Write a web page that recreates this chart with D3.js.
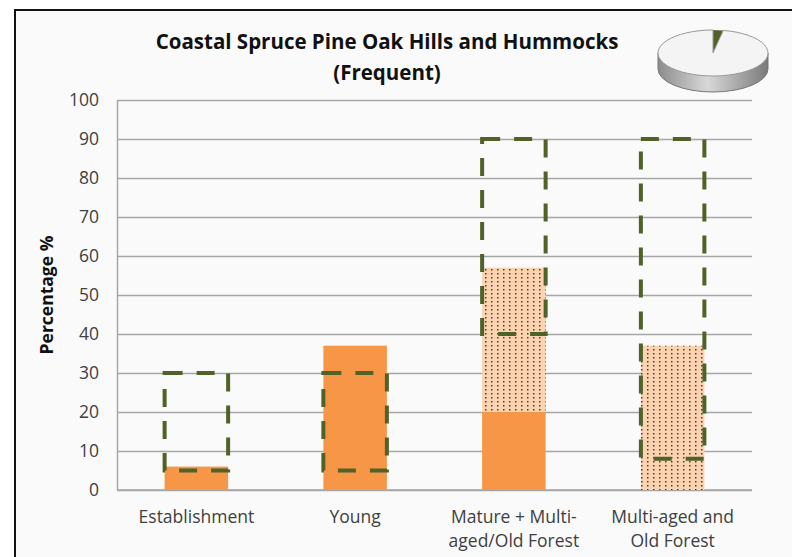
<!DOCTYPE html>
<html>
<head>
<meta charset="utf-8">
<script src="https://cdnjs.cloudflare.com/ajax/libs/d3/7.8.5/d3.min.js"></script>
<style>
  body { margin: 0; background: #fff; }
  text { font-family: "Open Sans", Lato, sans-serif; }
</style>
</head>
<body>
<script>
// chart values
const categories = ["Establishment", "Young", "Mature + Multi-aged/Old Forest", "Multi-aged and Old Forest"];
const labelLines = [["Establishment"], ["Young"], ["Mature + Multi-", "aged/Old Forest"], ["Multi-aged and", "Old Forest"]];
const solidValues = [6, 37, 20, 0];
const dottedValues = [0, 0, 37, 37];
const rangeLow = [5, 5, 40, 8];
const rangeHigh = [30, 30, 90, 90];
const yTicks = [0, 10, 20, 30, 40, 50, 60, 70, 80, 90, 100];
const pieValues = [3, 97];

const W = 792, H = 557;
const margin = {top: 100, right: 40, bottom: 67, left: 117},
    width = 752 - margin.left,
    height = 490 - margin.top;

var svg = d3.select("body").append("svg")
    .attr("width", W)
    .attr("height", H);

var defs = svg.append("defs");

// dotted fill
var pat = defs.append("pattern")
    .attr("id", "dots")
    .attr("patternUnits", "userSpaceOnUse")
    .attr("width", 6)
    .attr("height", 4);
pat.append("rect").attr("width", 6).attr("height", 4).attr("fill", "#fcd3b0");
pat.append("rect").attr("x", 2).attr("y", 1).attr("width", 1.5).attr("height", 1.5).attr("fill", "#4a3c30");

var grad = defs.append("linearGradient").attr("id", "pieSide");
grad.append("stop").attr("offset", "0%").attr("stop-color", "#8c8c8c");
grad.append("stop").attr("offset", "45%").attr("stop-color", "#d8d8d8");
grad.append("stop").attr("offset", "100%").attr("stop-color", "#7a7a7a");

// frame
svg.append("rect")
    .attr("x", 15).attr("y", 10)
    .attr("width", W).attr("height", H)
    .attr("fill", "#fafafa")
    .attr("stroke", "#111")
    .attr("stroke-width", 2);

var g = svg.append("g")
    .attr("transform", "translate(" + margin.left + "," + margin.top + ")");

var x = d3.scaleBand()
    .domain(categories)
    .range([0, width])
    .paddingInner(0.6)
    .paddingOuter(0.3);

var y = d3.scaleLinear()
    .domain([0, 100])
    .range([height, 0]);

// gridlines
g.append("g")
    .call(d3.axisLeft(y).tickValues(yTicks).tickSize(-width).tickFormat(""))
    .call(function(a) {
      a.select(".domain").remove();
      a.selectAll("line").attr("stroke", "#a6a6a6").attr("stroke-width", 1.5);
    });

// y axis
g.append("g")
    .call(d3.axisLeft(y).tickValues(yTicks).tickSize(0).tickPadding(18))
    .call(function(a) {
      a.select(".domain").attr("stroke", "#a6a6a6").attr("stroke-width", 1.5);
      a.selectAll("text").attr("font-size", 17.5).attr("fill", "#404040");
    });

// bottom axis line
g.append("line")
    .attr("x1", 0).attr("x2", width)
    .attr("y1", y(0)).attr("y2", y(0))
    .attr("stroke", "#a6a6a6")
    .attr("stroke-width", 1.5);

// solid bars
g.selectAll(".solid")
    .data(categories)
    .enter().append("rect")
    .attr("class", "solid")
    .attr("x", function(d) { return x(d); })
    .attr("width", x.bandwidth())
    .attr("y", function(d, i) { return y(solidValues[i]); })
    .attr("height", function(d, i) { return y(0) - y(solidValues[i]); })
    .attr("fill", "#f79646");

// dotted bars stacked on top
g.selectAll(".dotted")
    .data(categories)
    .enter().append("rect")
    .attr("class", "dotted")
    .attr("x", function(d) { return x(d); })
    .attr("width", x.bandwidth())
    .attr("y", function(d, i) { return y(solidValues[i] + dottedValues[i]); })
    .attr("height", function(d, i) { return y(solidValues[i]) - y(solidValues[i] + dottedValues[i]); })
    .attr("fill", "url(#dots)");

// range boxes
g.selectAll(".range")
    .data(categories)
    .enter().append("rect")
    .attr("class", "range")
    .attr("x", function(d) { return x(d); })
    .attr("width", x.bandwidth())
    .attr("y", function(d, i) { return y(rangeHigh[i]); })
    .attr("height", function(d, i) { return y(rangeLow[i]) - y(rangeHigh[i]); })
    .attr("fill", "none")
    .attr("stroke", "#4f6228")
    .attr("stroke-width", 4)
    .attr("stroke-dasharray", "18,14");

// category labels
var lab = g.selectAll(".cat")
    .data(categories)
    .enter().append("text")
    .attr("class", "cat")
    .attr("text-anchor", "middle")
    .attr("font-size", 17.5)
    .attr("fill", "#404040")
    .attr("transform", function(d) { return "translate(" + (x(d) + x.bandwidth() / 2) + "," + (height + 33) + ")"; });
lab.selectAll("tspan")
    .data(function(d, i) { return labelLines[i]; })
    .enter().append("tspan")
    .attr("x", 0)
    .attr("dy", function(d, i) { return i ? 24 : 0; })
    .text(function(d) { return d; });

// y label
svg.append("text")
    .attr("transform", "translate(53," + (margin.top + height / 2) + ") rotate(-90)")
    .attr("text-anchor", "middle")
    .attr("font-size", 17.5)
    .attr("font-weight", "bold")
    .attr("fill", "#111")
    .text("Percentage %");

// title
svg.append("text")
    .attr("x", 387).attr("y", 49)
    .attr("text-anchor", "middle")
    .attr("font-size", 20.5)
    .attr("font-weight", "bold")
    .attr("fill", "#111")
    .text("Coastal Spruce Pine Oak Hills and Hummocks");
svg.append("text")
    .attr("x", 387).attr("y", 80)
    .attr("text-anchor", "middle")
    .attr("font-size", 20.5)
    .attr("font-weight", "bold")
    .attr("fill", "#111")
    .text("(Frequent)");

// 3d pie
var cx = 713, cy = 53, rx = 55, ry = 23, depth = 16;
var pg = svg.append("g");
pg.append("path")
    .attr("d", "M" + (cx - rx) + "," + cy + " L" + (cx - rx) + "," + (cy + depth) +
      " A" + rx + "," + ry + " 0 0 0 " + (cx + rx) + "," + (cy + depth) +
      " L" + (cx + rx) + "," + cy + " Z")
    .attr("fill", "url(#pieSide)")
    .attr("stroke", "#777")
    .attr("stroke-width", 1);

var pie = d3.pie().sort(null);
var arc = d3.arc().innerRadius(0).outerRadius(rx);
pg.append("g")
    .attr("transform", "translate(" + cx + "," + cy + ") scale(1," + (ry / rx) + ")")
    .selectAll("path")
    .data(pie(pieValues))
    .enter().append("path")
    .attr("d", arc)
    .attr("fill", function(d, i) { return i ? "#f4f4f4" : "#4f6228"; })
    .attr("stroke", function(d, i) { return i ? "#999" : "none"; })
    .attr("vector-effect", "non-scaling-stroke")
    .attr("stroke-width", 1);
</script>
</body>
</html>
